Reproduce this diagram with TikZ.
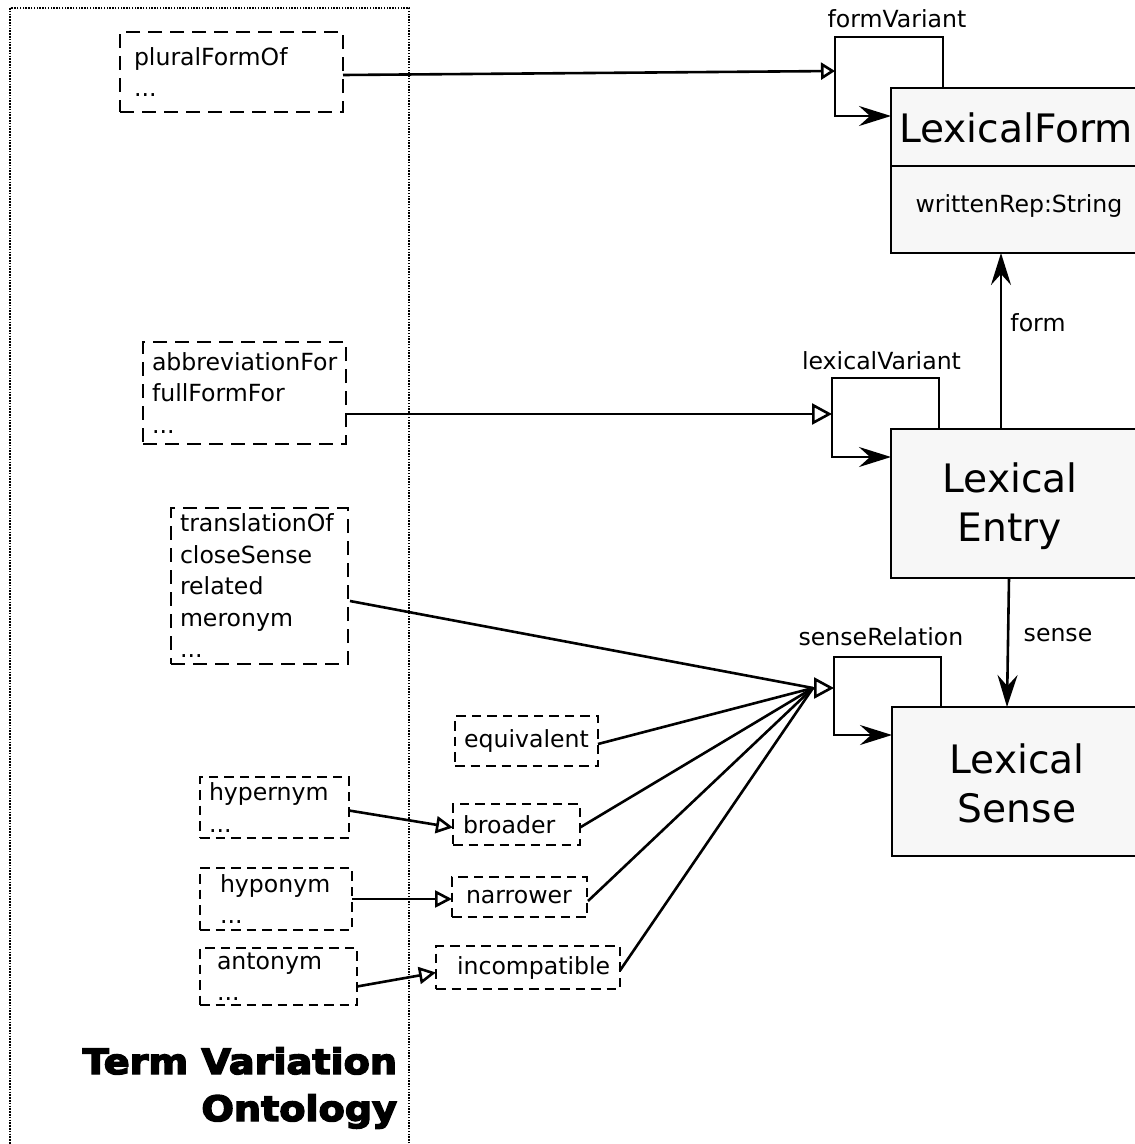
\documentclass[tikz,border=0pt]{standalone}
\usepackage{fontspec}
\setmainfont{DejaVu Sans}
\newfontfamily\heavyfont[FakeBold=4]{DejaVu Sans Bold}
\usetikzlibrary{arrows.meta,calc}
\definecolor{classfill}{RGB}{247,247,247}

\begin{document}
\begin{tikzpicture}[x=1pt,y=-1pt,
  every node/.style={inner sep=0pt, outer sep=0pt},
  termbox/.style={draw, line width=2.8pt, dash pattern=on 14pt off 8pt,
    align=left, inner ysep=0pt, font=\fontsize{23.6}{31.5}\selectfont},
  smallbox/.style={termbox, line width=2.5pt, dash pattern=on 9.5pt off 6pt},
  classbox/.style={draw, line width=2.8pt, fill=classfill, anchor=north west,
    minimum width=250pt},
  bigtext/.style={align=center, font=\fontsize{39.2}{49}\selectfont},
  attrtext/.style={font=\fontsize{23.6}{28}\selectfont},
  lbl/.style={font=\fontsize{23.6}{28}\selectfont},
  titletext/.style={align=right, font=\heavyfont\fontsize{35}{47}\selectfont},
  frame/.style={line width=1.5pt, dash pattern=on 1.5pt off 1.3pt},
  plain/.style={line width=2.6pt},
  assoc/.style={line width=2.6pt, -{Stealth[length=32pt, width=20pt, inset=11pt]}},
  gen/.style={line width=2.6pt, -{Triangle[open, length=20pt, width=21pt, line width=2.6pt]}},
  gensmall/.style={line width=2.6pt, -{Triangle[open, length=17pt, width=17pt, line width=2.6pt]}},
  genfv/.style={line width=2.6pt, -{Triangle[open, length=14pt, width=17pt, line width=2.6pt]}},
]
\useasboundingbox (0,0) rectangle (1135,1144);

% package frame of the Term Variation Ontology
\draw[frame] (10,8) rectangle (409,1170);
\node[titletext, anchor=east] (tvo) at (397,1088)
  {\scalebox{1.09}[1]{Term Variation}\\\scalebox{1.09}[1]{Ontology}};

% lexicon model classes
\node[classbox, minimum height=165pt] (lf) at (891,88) {};
\draw[line width=2.6pt] ($(lf.north west)+(0,78)$) -- ($(lf.north east)+(0,78)$);
\node[bigtext] (lftitle) at (1016,128) {LexicalForm};
\node[attrtext] (lfattr) at (1019,206) {writtenRep:String};

\node[classbox, minimum height=149pt] (le) at (891,429) {};
\node[bigtext] (letitle) at (1010,506) {Lexical\\Entry};

\node[classbox, minimum height=149pt] (ls) at (892,707) {};
\node[bigtext] (lstitle) at (1017,783) {Lexical\\Sense};

% term variation properties
\node[termbox, text width=195pt, inner xsep=14pt, minimum height=80pt] (plural) at (231.5,72) {pluralFormOf\\...};
\node[termbox, text width=185pt, inner xsep=9pt, minimum height=102pt] (abbr) at (244.5,393) {abbreviationFor\\fullFormFor\\...};
\node[termbox, text width=159pt, inner xsep=9pt, minimum height=156pt] (trans) at (259.5,586) {translationOf\\closeSense\\related\\meronym\\...};
\node[smallbox, align=center, text width=129pt, inner xsep=7pt, minimum height=50pt] (equiv) at (526.5,741) {equivalent};
\node[smallbox, text width=131pt, inner xsep=9pt, minimum height=61pt] (hyper) at (274.5,807.5) {hypernym\\...};
\node[smallbox, text width=107pt, inner xsep=10pt, minimum height=41pt] (broader) at (516.5,824.5) {broader};
\node[smallbox, text width=112pt, inner xsep=20pt, minimum height=62pt] (hypo) at (276,899) {hyponym\\...};
\node[smallbox, text width=107pt, inner xsep=14pt, minimum height=40pt] (narrower) at (519.5,897) {narrower};
\node[smallbox, text width=123pt, inner xsep=17pt, minimum height=57pt] (anto) at (278.5,976.5) {antonym\\...};
\node[smallbox, text width=142pt, inner xsep=21pt, minimum height=43pt] (incompat) at (528,967.5) {\mbox{incompatible}};

% self-association corners and generalisation targets
\coordinate (fvcorner) at (835,37);
\coordinate (lvcorner) at (832,378);
\coordinate (srcorner) at (834,657);
\coordinate (fvin) at (835,71);
\coordinate (lvin) at (832,414);
\coordinate (srin) at (834,688);
\coordinate (srbase) at (813,688);

% self associations
\draw[assoc] ($(lf.north west)+(52,0)$) |- (fvcorner) |- ($(lf.north west)+(0,28)$);
\draw[assoc] ($(le.north west)+(48,0)$) |- (lvcorner) |- ($(le.north west)+(0,28)$);
\draw[assoc] ($(ls.north west)+(49,0)$) |- (srcorner) |- ($(ls.north west)+(0,28)$);
\node[lbl] (fvlabel) at (897,19) {formVariant};
\node[lbl] (lvlabel) at (881.5,361) {lexicalVariant};
\node[lbl] (srlabel) at (881,637) {senseRelation};

% form and sense
\draw[assoc] ($(le.north west)+(110,0)$) -- ($(lf.south west)+(110,0)$);
\node[lbl] (formlabel) at (1038,323) {form};
\draw[assoc] ($(le.south west)+(118,0)$) -- ($(ls.north west)+(115,0)$);
\node[lbl] (senselabel) at (1058,635) {sense};

% specialisations
\draw[genfv] ($(plural.east)+(0,3)$) -- (fvin);
\draw[gen] ($(abbr.east)+(0,21)$) -- (lvin);
\draw[plain] ($(trans.east)+(2,15)$) -- (srbase);
\draw[plain] ($(equiv.east)+(0,3)$) -- (srbase);
\draw[plain] ($(broader.east)+(0,3)$) -- (srbase);
\draw[plain] ($(narrower.east)+(1,4)$) -- (srbase);
\draw[plain] ($(incompat.east)+(0,3)$) -- (srbase);
\draw[gen] ($(srbase)+(-1,0)$) -- (srin);
\draw[gensmall] ($(hyper.east)+(0,3)$) -- ($(broader.west)+(0,3)$);
\draw[gensmall] (hypo.east) -- ($(narrower.west)+(0,2)$);
\draw[gensmall] ($(anto.east)+(0,10)$) -- ($(incompat.west)+(0,5)$);
\end{tikzpicture}
\end{document}
